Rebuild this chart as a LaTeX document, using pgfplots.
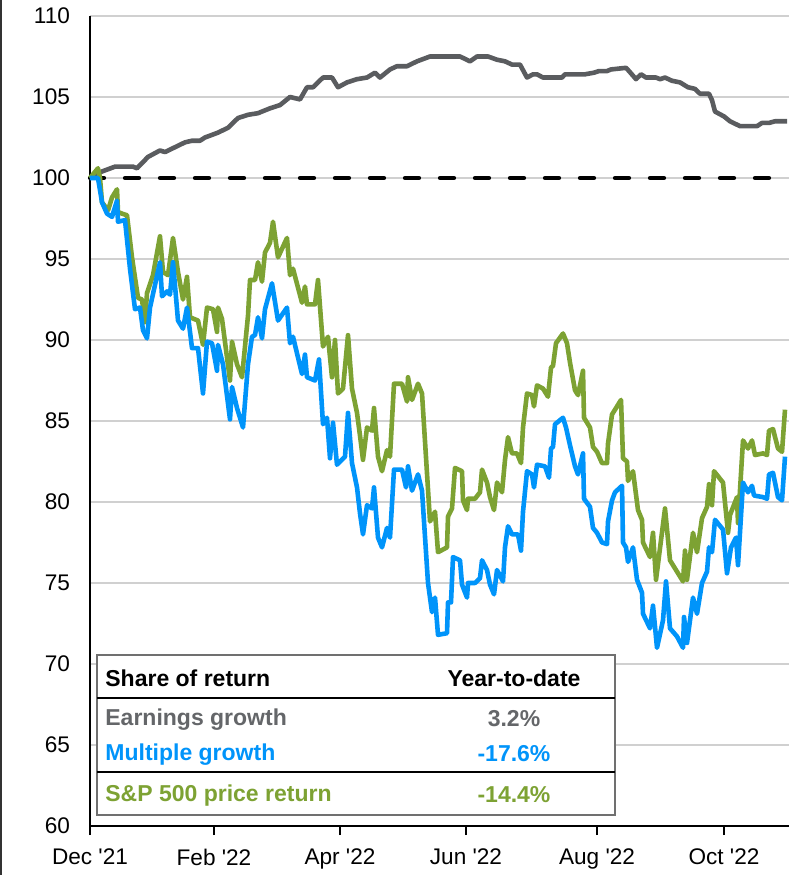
\documentclass[border=0pt]{standalone}
\usepackage{pgfplots}
\pgfplotsset{compat=1.18}
\usepackage{fontspec}
\setmainfont{Liberation Sans}
\definecolor{eg}{HTML}{5A5C5F}
\definecolor{mg}{HTML}{0094FA}
\definecolor{sp}{HTML}{7DA233}
\definecolor{gridc}{HTML}{D0D0D0}
\definecolor{boxc}{HTML}{707070}
\definecolor{egtext}{HTML}{646669}
\newcommand{\q}{\textquotesingle}
\begin{document}
\begin{tikzpicture}
\begin{axis}[
  scale only axis, width=349.5pt, height=405pt,
  xmin=0, xmax=699, ymin=60, ymax=110,
  axis lines*=left,
  axis line style={black, line width=1pt},
  ytick={60,65,...,110},
  xtick={0,124,250,376,507,634},
  xticklabels={Dec \q21,Feb \q22,Apr \q22,Jun \q22,Aug \q22,Oct \q22},
  ymajorgrids, grid style={gridc, line width=0.6pt},
  y tick style={draw=none},
  x tick style={black, line width=1pt},
  tick align=outside, major tick length=4.5pt,
  tick label style={font=\fontsize{11.3}{13}\selectfont},
  yticklabel style={xshift=-2pt},
  xticklabel style={yshift=-3.5pt},
  /pgf/number format/assume math mode=true,
  clip=false,
]
\coordinate (sw) at (rel axis cs:0,0);
\coordinate (ne) at (rel axis cs:1,1);
\addplot[black, line width=2.1pt, line cap=round, dash pattern=on 7pt off 10.5pt] coordinates {(0,100) (697,100)};
% Earnings growth
\addplot[eg, line width=2.3pt, line join=round] coordinates {
(0,100.0)(12,100.4)(25,100.7)(43,100.7)(47,100.6)(58,101.3)(70,101.7)(75,101.6)(95,102.2)(102,102.3)
(110,102.3)(115,102.5)(128,102.8)(138,103.1)(148,103.7)(158,103.9)(168,104.0)(180,104.3)(190,104.5)(200,105.0)
(210,104.85)(217,105.6)(223,105.6)(233,106.2)(242,106.2)(248,105.6)(257,105.9)(267,106.1)(277,106.2)(285,106.5)
(290,106.2)(300,106.7)(307,106.9)(317,106.9)(327,107.2)(340,107.5)(370,107.5)(375,107.35)(380,107.2)(387,107.5)
(398,107.5)(407,107.3)(415,107.2)(422,107.0)(430,107.0)(437,106.2)(443,106.4)(447,106.4)(453,106.2)(472,106.2)
(475,106.4)(495,106.4)(504,106.5)(509,106.6)(517,106.6)(521,106.7)(536,106.8)(539,106.6)(546,106.1)(551,106.4)
(556,106.2)(566,106.2)(570,106.1)(575,106.2)(582,106.0)(590,105.9)(598,105.6)(605,105.5)(610,105.2)(619,105.2)
(622,104.8)(625,104.1)(634,103.8)(640,103.5)(650,103.2)(667,103.2)(672,103.4)(679,103.4)(685,103.5)(697,103.5)
};
% S&P 500 price return
\addplot[sp, line width=2.3pt, line join=round] coordinates {
(0,100.0)(8,100.6)(10,100.0)(12,98.5)(18,98.0)(22,98.8)(27,99.3)(28,97.9)(32,97.8)(37,97.7)
(42,95.1)(48,92.6)(52,92.5)(55,91.1)(57,92.9)(63,94.0)(70,96.4)(73,94.2)(78,94.0)(83,96.3)
(88,94.2)(93,92.5)(97,93.9)(100,91.4)(108,91.2)(113,89.7)(117,92.0)(123,91.9)(127,90.5)(128,92.0)
(132,91.3)(140,87.5)(142,89.9)(147,88.5)(152,87.7)(158,91.5)(160,93.7)(165,93.7)(168,94.8)(172,93.6)
(175,95.4)(180,96.0)(183,97.3)(188,95.1)(197,96.3)(200,94.0)(203,94.4)(212,92.3)(215,93.3)(217,92.2)
(225,92.2)(228,93.7)(233,89.6)(238,90.2)(242,87.7)(245,90.0)(248,86.7)(253,87.0)(258,90.3)(262,87.0)
(267,85.5)(270,84.1)(273,82.6)(277,84.6)(282,84.4)(284,85.8)(288,82.8)(292,81.9)(297,83.2)(300,82.8)
(304,87.3)(312,87.3)(317,86.2)(318,87.7)(322,86.3)(328,87.3)(332,86.7)(340,78.8)(345,79.4)(348,76.9)
(357,77.2)(358,79.1)(362,79.6)(365,82.1)(372,81.9)(373,80.1)(377,79.5)(378,80.2)(385,80.2)(390,80.6)
(392,82.0)(397,81.2)(400,80.3)(404,79.5)(407,81.2)(412,80.6)(415,82.6)(418,84.0)(422,83.0)(427,83.0)
(431,82.4)(433,84.6)(437,86.7)(442,86.6)(444,85.9)(447,87.2)(453,87.0)(458,86.5)(461,88.3)(463,88.4)
(466,89.8)(473,90.4)(477,89.8)(480,88.6)(485,86.9)(488,86.6)(493,88.1)(494,85.2)(500,84.6)(503,83.4)
(507,83.1)(512,82.4)(517,82.4)(518,83.6)(522,85.4)(525,85.7)(531,86.3)(533,82.7)(537,82.5)(538,81.3)
(543,81.9)(548,79.5)(552,78.9)(553,77.5)(560,76.6)(563,78.1)(566,75.2)(575,79.6)(580,76.4)(587,75.7)
(593,75.1)(595,77.0)(597,75.2)(603,78.1)(607,76.9)(612,79.0)(617,79.7)(619,81.1)(622,79.8)(624,81.9)
(633,81.2)(638,78.1)(640,79.2)(647,80.3)(648,78.7)(653,83.8)(658,83.3)(662,83.8)(665,82.9)(673,83.0)
(677,82.9)(679,84.4)(683,84.5)(688,83.3)(692,83.1)(695,85.7)
};
% Multiple growth
\addplot[mg, line width=2.3pt, line join=round] coordinates {
(0,100.0)(8,100.0)(12,98.5)(17,97.8)(22,97.6)(27,98.6)(28,97.3)(35,97.4)(40,94.4)(45,91.9)
(50,92.0)(53,90.6)(57,90.1)(60,92.0)(70,94.8)(72,92.7)(77,93.0)(80,92.8)(83,94.8)(88,91.2)
(93,90.7)(97,92.0)(102,89.5)(108,89.5)(113,86.7)(117,89.9)(122,89.8)(127,88.1)(128,89.7)(133,88.5)
(140,85.1)(142,87.1)(147,85.8)(153,84.6)(158,88.5)(162,90.2)(165,90.3)(168,91.4)(172,90.1)(175,91.9)
(182,93.5)(188,91.2)(197,92.0)(200,89.8)(203,90.2)(212,87.9)(215,89.1)(217,87.7)(225,87.5)(229,88.8)
(233,84.8)(237,85.2)(240,82.7)(243,84.9)(247,82.3)(255,82.8)(258,85.5)(262,82.4)(267,80.9)(270,79.3)
(273,78.0)(277,79.8)(282,79.6)(284,80.9)(288,77.8)(292,77.2)(297,78.4)(300,77.8)(304,82.0)(312,82.0)
(316,80.9)(318,82.2)(322,80.7)(328,81.7)(332,80.7)(338,75.0)(342,73.2)(345,74.1)(348,71.8)(357,71.9)
(358,73.8)(361,73.8)(363,76.6)(370,76.4)(372,74.9)(377,74.1)(378,75.0)(385,75.0)(390,75.3)(392,76.4)
(397,75.8)(400,74.9)(404,74.3)(407,75.8)(413,75.1)(415,77.2)(418,78.5)(422,78.0)(428,78.0)(431,77.0)
(433,79.4)(437,81.9)(442,81.7)(444,80.9)(447,82.3)(455,82.2)(459,81.5)(461,83.3)(463,83.4)(465,84.8)
(473,85.2)(476,84.6)(480,83.5)(485,82.2)(488,81.7)(493,83.0)(494,80.2)(500,79.7)(503,78.4)(507,78.1)
(512,77.5)(517,77.4)(518,78.8)(522,80.1)(525,80.6)(532,81.0)(533,77.5)(536,77.2)(538,76.3)(543,77.2)
(547,75.2)(552,74.4)(553,73.1)(560,72.2)(563,73.6)(567,71.0)(573,72.7)(576,75.1)(580,72.2)(587,71.7)
(593,71.0)(594,72.9)(597,71.3)(603,74.1)(607,73.1)(612,75.0)(617,75.7)(619,77.2)(622,76.9)(625,78.9)
(633,78.3)(637,75.6)(641,77.2)(646,77.8)(648,76.1)(653,81.2)(658,80.6)(662,81.0)(664,80.4)(673,80.3)
(677,80.2)(679,81.7)(683,81.8)(688,80.3)(692,80.1)(695,82.8)
};
% share-of-return table
\filldraw[fill=white, draw=boxc, line width=1.3pt] (axis cs:7,60.68) rectangle (axis cs:525,70.56);
\draw[black, line width=1.2pt] (axis cs:7,67.9) -- (axis cs:525,67.9);
\draw[black, line width=1.2pt] (axis cs:7,63.33) -- (axis cs:525,63.33);
\begin{scope}[every node/.style={font=\bfseries\fontsize{11.5}{13}\selectfont, inner sep=0pt}]
\node[anchor=west] at (axis cs:15,69.14) {Share of return};
\node at (axis cs:424,69.14) {Year-to-date};
\node[anchor=west, text=egtext] at (axis cs:15,66.55) {Earnings growth};
\node[text=egtext] at (axis cs:424,66.6) {3.2\%};
\node[anchor=west, text=mg] at (axis cs:15,64.39) {Multiple growth};
\node[text=mg] at (axis cs:424,64.44) {-17.6\%};
\node[anchor=west, text=sp] at (axis cs:15,61.86) {S\&P 500 price return};
\node[text=sp] at (axis cs:424,61.91) {-14.4\%};
\end{scope}
\end{axis}
\pgfresetboundingbox
\path[use as bounding box] ([xshift=-45pt,yshift=-24.5pt]sw) rectangle ([yshift=8pt]ne);
\draw[black!80, line width=0.8pt] ([xshift=-44.6pt,yshift=-24.5pt]sw) -- ([xshift=-44.6pt,yshift=8pt]sw |- ne);
\end{tikzpicture}
\end{document}
